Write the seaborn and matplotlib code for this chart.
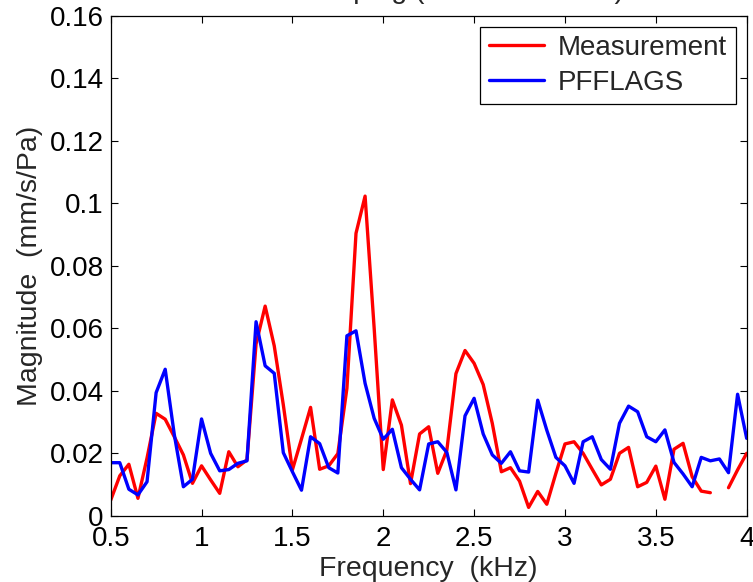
import numpy as np
import pandas as pd
import matplotlib
matplotlib.use("Agg")
import matplotlib.pyplot as plt
from matplotlib.lines import Line2D
import seaborn as sns

# Frequencies (kHz), one sample every 0.05 kHz
freq = np.round(np.arange(0.5, 4.0001, 0.05), 2)

# Measured magnitude (mm/s/Pa); NaN = missing sample
measurement = [
    0.0050, 0.0128, 0.0165, 0.0056, 0.0185, 0.0328, 0.0309, 0.0253, 0.0195, 0.0104,
    0.0160, 0.0115, 0.0072, 0.0205, 0.0157, 0.0179, 0.0550, 0.0671, 0.0544, 0.0355,
    0.0147, 0.0246, 0.0347, 0.0149, 0.0160, 0.0199, 0.0408, 0.0904, 0.1023, 0.0600,
    0.0148, 0.0371, 0.0290, 0.0103, 0.0262, 0.0285, 0.0136, 0.0210, 0.0455, 0.0529,
    0.0488, 0.0420, 0.0296, 0.0141, 0.0154, 0.0111, 0.0027, 0.0078, 0.0037, 0.0136,
    0.0230, 0.0237, 0.0200, 0.0149, 0.0099, 0.0117, 0.0200, 0.0219, 0.0093, 0.0107,
    0.0159, 0.0053, 0.0213, 0.0232, 0.0125, 0.0079, 0.0074, np.nan, 0.0090, 0.0147,
    0.0200,
]

# Predicted magnitude (mm/s/Pa)
pfflags = [
    0.0170, 0.0170, 0.0085, 0.0067, 0.0109, 0.0394, 0.0469, 0.0260, 0.0093, 0.0117,
    0.0310, 0.0200, 0.0144, 0.0148, 0.0168, 0.0176, 0.0621, 0.0480, 0.0456, 0.0202,
    0.0141, 0.0082, 0.0253, 0.0231, 0.0154, 0.0137, 0.0576, 0.0592, 0.0424, 0.0312,
    0.0245, 0.0277, 0.0154, 0.0117, 0.0083, 0.0230, 0.0237, 0.0203, 0.0083, 0.0320,
    0.0376, 0.0262, 0.0195, 0.0168, 0.0205, 0.0144, 0.0140, 0.0370, 0.0274, 0.0187,
    0.0160, 0.0104, 0.0237, 0.0253, 0.0180, 0.0149, 0.0296, 0.0351, 0.0333, 0.0253,
    0.0237, 0.0275, 0.0171, 0.0134, 0.0093, 0.0187, 0.0176, 0.0182, 0.0138, 0.0389,
    0.0248,
]

series_names = ["Measurement", "PFFLAGS"]
series_colors = ["#ff0000", "#0000ff"]
xticks = [0.5, 1, 1.5, 2, 2.5, 3, 3.5, 4]
yticks = [0, 0.02, 0.04, 0.06, 0.08, 0.10, 0.12, 0.14, 0.16]
xtick_labels = ["0.5", "1", "1.5", "2", "2.5", "3", "3.5", "4"]
ytick_labels = ["0", "0.02", "0.04", "0.06", "0.08", "0.1", "0.12", "0.14", "0.16"]


def long_form(name, values):
    d = pd.DataFrame({"freq": freq, "mag": values, "series": name})
    # new segment after every missing sample so the line breaks there
    d["seg"] = d["mag"].isna().cumsum()
    return d.dropna()


df = pd.concat([long_form(n, v) for n, v in zip(series_names, [measurement, pfflags])],
               ignore_index=True)
df["unit"] = df["series"] + "_" + df["seg"].astype(str)

sns.set_theme(style="ticks")
plt.rcParams["font.family"] = ["Liberation Sans", "DejaVu Sans"]

fig = plt.figure(figsize=(7.53, 5.82), dpi=100)
ax = fig.add_axes([0.147, 0.1137, 0.8446, 0.8592])

sns.lineplot(data=df, x="freq", y="mag", hue="series", units="unit", estimator=None,
             hue_order=series_names, palette=dict(zip(series_names, series_colors)),
             linewidth=2.4, legend=False, ax=ax)

ax.set_xlim(0.5, 4)
ax.set_ylim(0, 0.16)
ax.set_xticks(xticks)
ax.set_yticks(yticks)
ax.set_xticklabels(xtick_labels)
ax.set_yticklabels(ytick_labels)
ax.tick_params(direction="in", top=True, right=True, length=5, width=0.8,
               labelsize=20, colors="black")
ax.tick_params(axis="x", pad=7)
ax.tick_params(axis="y", pad=5)
for s in ax.spines.values():
    s.set_visible(True)
    s.set_color("black")
    s.set_linewidth(0.9)

ax.set_xlabel("Frequency  (kHz)", fontsize=20.5, labelpad=3)
ax.set_ylabel("Magnitude  (mm/s/Pa)", fontsize=20.5, labelpad=5)
ax.set_title("With damping (Shell Model A1)", fontsize=20.5, pad=13)

handles = [Line2D([], [], color=c, linewidth=2.4) for c in series_colors]
leg = ax.legend(handles, series_names, loc="upper right", fontsize=20,
                frameon=True, fancybox=False, framealpha=1, edgecolor="black",
                borderaxespad=0.4, handlelength=2.0, handletextpad=0.5,
                borderpad=0.3, labelspacing=0.3)
leg.get_frame().set_linewidth(0.9)

fig.savefig("out.png", dpi=100)
